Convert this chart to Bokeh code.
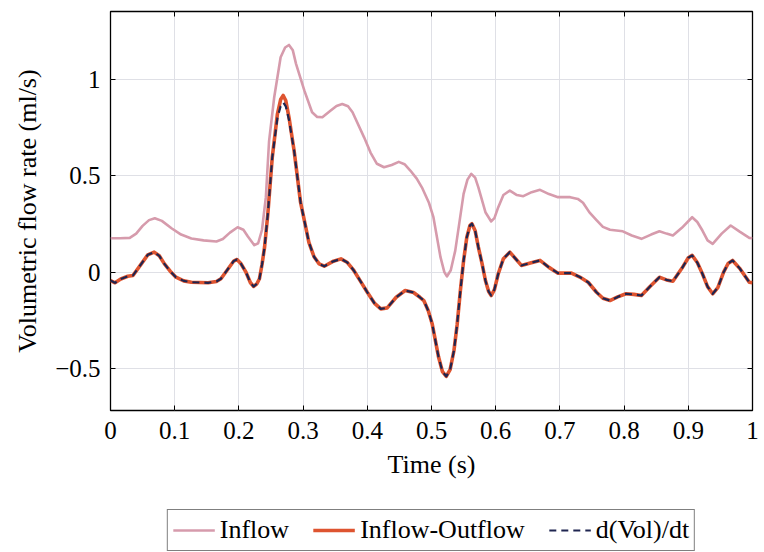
from bokeh.plotting import figure
from bokeh.models import Range1d, FixedTicker, LinearAxis, Legend, LegendItem
from bokeh.layouts import column
from bokeh.embed import file_html
from bokeh.resources import INLINE

# ---- data ----
t_inflow = [0.000, 0.015, 0.030, 0.040, 0.050, 0.060, 0.069, 0.080, 0.095, 0.110,
            0.126, 0.145, 0.165, 0.175, 0.186, 0.198, 0.207, 0.214, 0.224, 0.230,
            0.236, 0.242, 0.247, 0.255, 0.265, 0.272, 0.278, 0.284, 0.289, 0.302,
            0.314, 0.322, 0.330, 0.343, 0.352, 0.361, 0.370, 0.377, 0.395, 0.405,
            0.415, 0.426, 0.438, 0.449, 0.458, 0.467, 0.477, 0.485, 0.496, 0.503,
            0.514, 0.520, 0.524, 0.530, 0.537, 0.544, 0.550, 0.556, 0.562, 0.568,
            0.573, 0.584, 0.593, 0.598, 0.604, 0.612, 0.622, 0.633, 0.643, 0.656,
            0.669, 0.683, 0.697, 0.716, 0.728, 0.736, 0.746, 0.757, 0.767, 0.778,
            0.798, 0.812, 0.827, 0.842, 0.855, 0.866, 0.876, 0.890, 0.906, 0.914,
            0.922, 0.930, 0.938, 0.952, 0.966, 0.980, 0.995, 1.000]
q_inflow = [0.176, 0.176, 0.178, 0.200, 0.240, 0.270, 0.280, 0.266, 0.228, 0.195,
            0.175, 0.165, 0.159, 0.172, 0.205, 0.233, 0.220, 0.185, 0.140, 0.150,
            0.220, 0.389, 0.680, 0.907, 1.114, 1.165, 1.178, 1.150, 1.080, 0.941,
            0.829, 0.805, 0.803, 0.838, 0.862, 0.872, 0.860, 0.829, 0.699, 0.620,
            0.562, 0.544, 0.556, 0.572, 0.560, 0.527, 0.485, 0.440, 0.360, 0.285,
            0.078, 0.000, -0.022, 0.010, 0.112, 0.270, 0.406, 0.480, 0.510, 0.490,
            0.440, 0.311, 0.263, 0.280, 0.337, 0.400, 0.423, 0.400, 0.394, 0.415,
            0.427, 0.405, 0.389, 0.389, 0.380, 0.360, 0.310, 0.270, 0.235, 0.220,
            0.212, 0.190, 0.173, 0.195, 0.212, 0.200, 0.190, 0.230, 0.285, 0.260,
            0.216, 0.165, 0.147, 0.200, 0.242, 0.210, 0.178, 0.176]

t_net = [0.000, 0.007, 0.016, 0.027, 0.035, 0.048, 0.058, 0.068, 0.076, 0.084,
         0.093, 0.102, 0.114, 0.126, 0.152, 0.165, 0.172, 0.185, 0.192, 0.197,
         0.203, 0.211, 0.218, 0.223, 0.228, 0.232, 0.236, 0.240, 0.245, 0.252,
         0.260, 0.265, 0.269, 0.273, 0.278, 0.286, 0.296, 0.309, 0.317, 0.325,
         0.333, 0.346, 0.359, 0.369, 0.379, 0.390, 0.400, 0.411, 0.421, 0.431,
         0.445, 0.459, 0.472, 0.482, 0.488, 0.495, 0.501, 0.511, 0.517, 0.523,
         0.529, 0.535, 0.540, 0.545, 0.550, 0.555, 0.560, 0.563, 0.568, 0.573,
         0.579, 0.584, 0.589, 0.593, 0.598, 0.604, 0.612, 0.622, 0.631, 0.640,
         0.654, 0.669, 0.683, 0.697, 0.718, 0.731, 0.744, 0.757, 0.767, 0.778,
         0.790, 0.803, 0.815, 0.827, 0.840, 0.855, 0.866, 0.876, 0.890, 0.900,
         0.906, 0.914, 0.922, 0.930, 0.938, 0.946, 0.955, 0.962, 0.969, 0.980,
         0.995, 1.000]
q_net = [-0.043, -0.055, -0.035, -0.021, -0.017, 0.043, 0.090, 0.104, 0.085, 0.043,
         0.005, -0.026, -0.045, -0.052, -0.055, -0.048, -0.034, 0.026, 0.058, 0.066,
         0.045, 0.000, -0.055, -0.074, -0.060, -0.034, 0.040, 0.130, 0.300, 0.596,
         0.820, 0.895, 0.916, 0.890, 0.803, 0.630, 0.363, 0.155, 0.080, 0.043,
         0.031, 0.055, 0.069, 0.050, 0.009, -0.050, -0.104, -0.160, -0.190, -0.185,
         -0.130, -0.095, -0.105, -0.130, -0.147, -0.200, -0.267, -0.440, -0.515, -0.540,
         -0.505, -0.406, -0.270, -0.095, 0.060, 0.181, 0.243, 0.251, 0.215, 0.130,
         0.040, -0.043, -0.100, -0.121, -0.090, -0.008, 0.070, 0.104, 0.070, 0.035,
         0.048, 0.061, 0.025, -0.005, -0.005, -0.025, -0.052, -0.104, -0.135, -0.147,
         -0.128, -0.112, -0.115, -0.121, -0.075, -0.026, -0.040, -0.047, 0.020, 0.075,
         0.087, 0.050, -0.008, -0.075, -0.112, -0.080, 0.000, 0.045, 0.061, 0.020,
         -0.052, -0.055]
q_dvdt = [-0.043, -0.055, -0.035, -0.021, -0.017, 0.043, 0.090, 0.104, 0.085, 0.043,
          0.005, -0.026, -0.045, -0.052, -0.055, -0.048, -0.034, 0.026, 0.058, 0.066,
          0.045, 0.000, -0.055, -0.074, -0.060, -0.034, 0.040, 0.130, 0.300, 0.596,
          0.800, 0.860, 0.880, 0.860, 0.790, 0.630, 0.363, 0.155, 0.080, 0.043,
          0.031, 0.055, 0.069, 0.050, 0.009, -0.050, -0.104, -0.160, -0.190, -0.185,
          -0.130, -0.095, -0.105, -0.130, -0.147, -0.200, -0.267, -0.440, -0.515, -0.540,
          -0.505, -0.406, -0.270, -0.095, 0.060, 0.181, 0.243, 0.251, 0.215, 0.130,
          0.040, -0.043, -0.100, -0.121, -0.090, -0.008, 0.070, 0.104, 0.070, 0.035,
          0.048, 0.061, 0.025, -0.005, -0.005, -0.025, -0.052, -0.104, -0.135, -0.147,
          -0.128, -0.112, -0.115, -0.121, -0.075, -0.026, -0.040, -0.047, 0.020, 0.075,
          0.087, 0.050, -0.008, -0.075, -0.112, -0.080, 0.000, 0.045, 0.061, 0.020,
          -0.052, -0.055]

x_ticks = [0.0, 0.1, 0.2, 0.3, 0.4, 0.5, 0.6, 0.7, 0.8, 0.9, 1.0]
x_tick_labels = ["0", "0.1", "0.2", "0.3", "0.4", "0.5", "0.6", "0.7", "0.8", "0.9", "1"]
y_ticks = [-0.5, 0.0, 0.5, 1.0]
y_tick_labels = ["\u22120.5", "0", "0.5", "1"]

series_names = ["Inflow", "Inflow-Outflow", "d(Vol)/dt"]

FONT = "Liberation Serif"
C_IN = "#d69bac"
C_NET = "#de5430"
C_DV = "#1f2550"
STYLE_IN = dict(line_color=C_IN, line_width=2.6, line_join="round")
STYLE_NET = dict(line_color=C_NET, line_width=3.6, line_join="round")
STYLE_DV = dict(line_color=C_DV, line_width=2.2, line_dash="7 5", line_join="round")

p = figure(width=764, height=505, output_backend="svg", toolbar_location=None,
           x_range=Range1d(0, 1), y_range=Range1d(-0.717, 1.3515),
           min_border_left=110, min_border_right=12, min_border_top=11,
           min_border_bottom=95)
p.background_fill_color = "white"
p.border_fill_color = "white"
p.outline_line_color = "black"
p.outline_line_width = 1.3

p.line(t_inflow, q_inflow, **STYLE_IN)
p.line(t_net, q_net, **STYLE_NET)
p.line(t_net, q_dvdt, **STYLE_DV)

xt = FixedTicker(ticks=x_ticks, minor_ticks=[])
yt = FixedTicker(ticks=y_ticks, minor_ticks=[])

for ax in p.xaxis:
    ax.ticker = xt
    ax.major_label_overrides = dict(zip(x_ticks, x_tick_labels))
for ax in p.yaxis:
    ax.ticker = yt
    ax.major_label_overrides = dict(zip(y_ticks, y_tick_labels))

for ax in list(p.xaxis) + list(p.yaxis):
    ax.axis_line_color = None
    ax.major_tick_in = 5
    ax.major_tick_out = 0
    ax.minor_tick_line_color = None
    ax.major_tick_line_color = "black"
    ax.major_label_text_font = FONT
    ax.major_label_text_font_size = "25px"
    ax.major_label_text_color = "black"
    ax.axis_label_text_font = FONT
    ax.axis_label_text_font_size = "26px"
    ax.axis_label_text_font_style = "normal"
    ax.axis_label_text_color = "black"

p.xaxis.axis_label = "Time (s)"
p.xaxis.major_label_standoff = 11
p.xaxis.axis_label_standoff = 8
p.yaxis.axis_label = "Volumetric flow rate (ml/s)"
p.yaxis.major_label_standoff = 10
p.yaxis.axis_label_standoff = 10

# mirror ticks on top and right (labels not drawn)
for loc, tk in (("above", xt), ("right", yt)):
    ax = LinearAxis(ticker=tk, axis_line_color=None, major_tick_in=5, major_tick_out=0,
                    major_tick_line_color="black", minor_tick_line_color=None,
                    major_label_text_color=None, major_label_standoff=0)
    p.add_layout(ax, loc)

p.xgrid.ticker = xt
p.ygrid.ticker = yt
p.grid.grid_line_color = "#dfe0e6"
p.grid.grid_line_width = 1

# ---- legend strip under the plot (its own small figure) ----
lg = figure(width=764, height=47, output_backend="svg", toolbar_location=None,
            x_range=Range1d(2, 3), y_range=Range1d(2, 3),
            x_axis_type=None, y_axis_type=None,
            min_border_left=110, min_border_right=12, min_border_top=0,
            min_border_bottom=0)
lg.outline_line_color = None
lg.grid.visible = False
lg.background_fill_color = "white"
lg.border_fill_color = "white"
g_in = lg.line(t_inflow, q_inflow, **STYLE_IN)
g_net = lg.line(t_net, q_net, **STYLE_NET)
g_dv = lg.line(t_net, q_dvdt, **STYLE_DV)

legend = Legend(items=[LegendItem(label=series_names[0], renderers=[g_in]),
                       LegendItem(label=series_names[1], renderers=[g_net]),
                       LegendItem(label=series_names[2], renderers=[g_dv])],
                location="top_center", orientation="horizontal",
                border_line_color="black", border_line_width=1,
                background_fill_color="white", background_fill_alpha=1,
                padding=5, spacing=24, margin=4,
                glyph_width=42, glyph_height=20, label_standoff=5,
                label_text_font=FONT, label_text_font_size="26px",
                label_text_color="black")
lg.add_layout(legend)

open("out.html", "w").write(file_html(column(p, lg, spacing=0), INLINE))
